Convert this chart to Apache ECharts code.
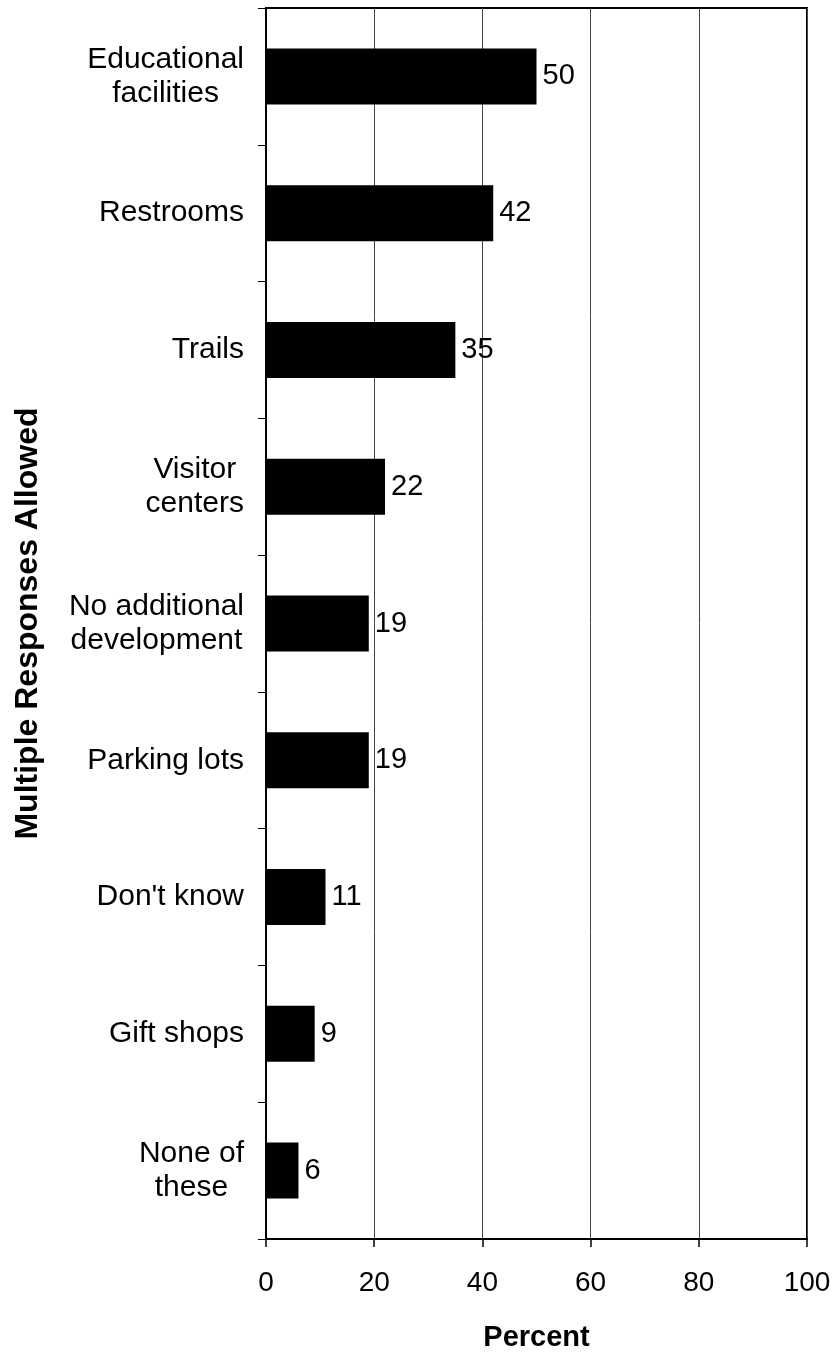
<!DOCTYPE html>
<html>
<head>
<meta charset="utf-8">
<script src="https://cdn.jsdelivr.net/npm/echarts@6/dist/echarts.min.js"></script>
<style>
  html, body { margin: 0; padding: 0; background: #fff; }
  #chart { width: 835px; height: 1357px; }
</style>
</head>
<body>
<div id="chart"></div>
<script>
// Survey answers, top to bottom
const categories = [
  'Educational\nfacilities',
  'Restrooms',
  'Trails',
  'Visitor\ncenters',
  'No additional\ndevelopment',
  'Parking lots',
  "Don't know",
  'Gift shops',
  'None of\nthese'
];
const percentValues = [50, 42, 35, 22, 19, 19, 11, 9, 6];
const percentTicks = [0, 20, 40, 60, 80, 100];

const FONT = '"Liberation Sans", Arial, sans-serif';

const chart = echarts.init(document.getElementById('chart'), null, { renderer: 'canvas' });

chart.setOption({
  backgroundColor: '#ffffff',
  animation: false,
  textStyle: { fontFamily: FONT, color: '#000' },
  grid: {
    left: 266, right: 28, top: 8, bottom: 117,
    show: true, borderColor: '#000', borderWidth: 2, backgroundColor: 'transparent'
  },
  xAxis: {
    type: 'value',
    min: percentTicks[0],
    max: percentTicks[percentTicks.length - 1],
    interval: percentTicks[1] - percentTicks[0],
    name: 'Percent',
    nameLocation: 'middle',
    nameGap: 84,
    nameTextStyle: { fontFamily: FONT, fontSize: 29, fontWeight: 'bold', color: '#000' },
    axisLine: { show: true, lineStyle: { color: '#000', width: 2 } },
    axisTick: { show: true, inside: false, length: 8, lineStyle: { color: '#000', width: 1.5 } },
    axisLabel: { fontFamily: FONT, fontSize: 28, color: '#000', margin: 30 },
    splitLine: { show: true, lineStyle: { color: '#444', width: 1 } }
  },
  yAxis: {
    type: 'category',
    data: categories,
    inverse: true,
    name: 'Multiple Responses Allowed',
    nameLocation: 'middle',
    nameRotate: 90,
    nameGap: 222,
    nameTextStyle: { fontFamily: FONT, fontSize: 32, fontWeight: 'bold', color: '#000' },
    axisLine: { show: true, lineStyle: { color: '#000', width: 2 } },
    axisTick: { show: true, inside: false, length: 8, alignWithLabel: false, lineStyle: { color: '#000', width: 1 } },
    axisLabel: {
      margin: 22,
      align: 'right',
      formatter: v => v.split('\n').map(line => '{c|' + line + '}').join('\n'),
      rich: {
        c: { align: 'center', fontFamily: FONT, fontSize: 30, lineHeight: 34, color: '#000' }
      }
    },
    splitLine: { show: false }
  },
  series: [{
    type: 'bar',
    data: percentValues,
    barWidth: 56,
    itemStyle: { color: '#000' },
    label: {
      show: true,
      position: 'right',
      distance: 6,
      fontFamily: FONT,
      fontSize: 29,
      color: '#000'
    }
  }]
});
</script>
</body>
</html>
